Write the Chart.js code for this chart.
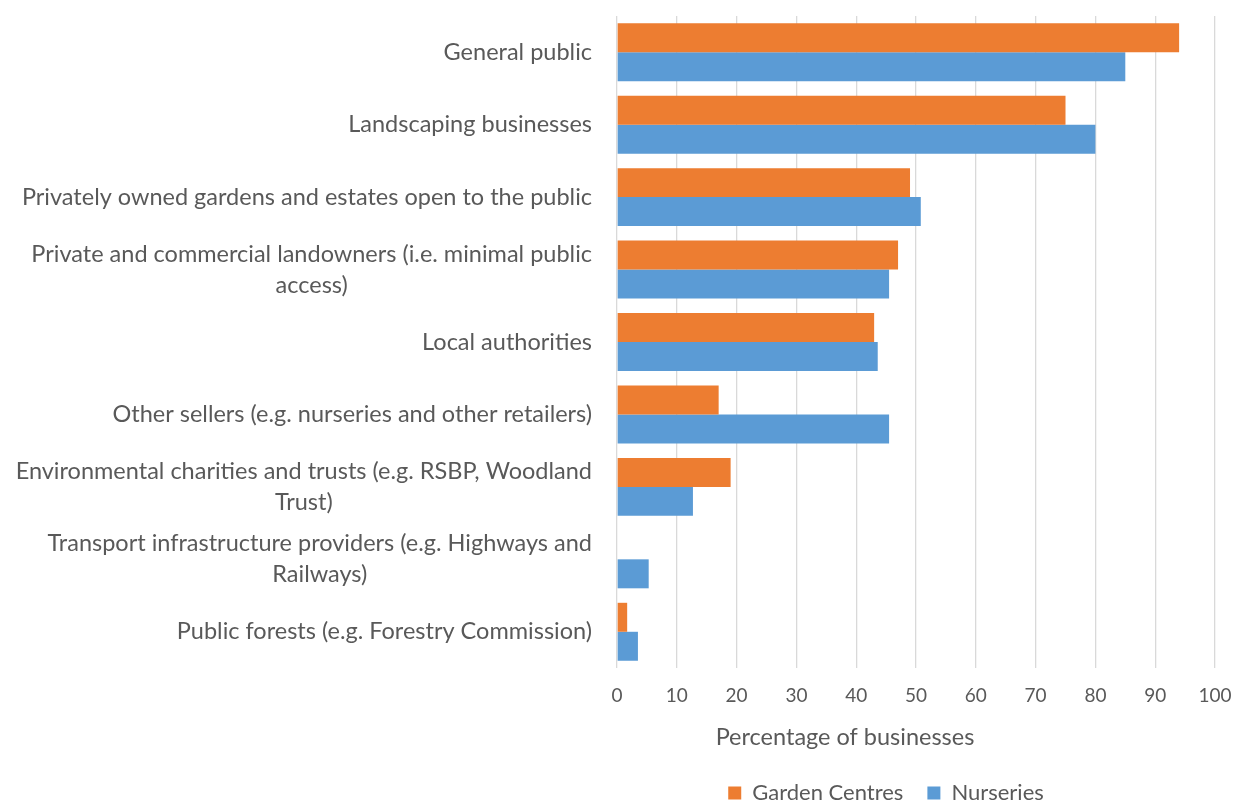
<!DOCTYPE html>
<html>
<head>
<meta charset="utf-8">
<script src="https://cdn.jsdelivr.net/npm/chart.js@4/dist/chart.umd.min.js"></script>
<style>
  html, body { margin: 0; padding: 0; background: #ffffff; }
  #wrap { width: 1240px; height: 804px; }
</style>
</head>
<body>
<div id="wrap"><canvas id="chart" width="1240" height="804"></canvas></div>
<script>
// Customer groups (multi-line entries wrap onto a second line)
const categories = [
  'General public',
  'Landscaping businesses',
  'Privately owned gardens and estates open to the public',
  ['Private and commercial landowners (i.e. minimal public', 'access)'],
  'Local authorities',
  'Other sellers (e.g. nurseries and other retailers)',
  ['Environmental charities and trusts (e.g. RSBP, Woodland', 'Trust)'],
  ['Transport infrastructure providers (e.g. Highways and', 'Railways)'],
  'Public forests (e.g. Forestry Commission)'
];

// Share of businesses selling to each group (%)
const gardenCentres = [94, 75, 49, 47, 43, 17, 19, 0, 1.7];
const nurseries     = [85, 80, 50.8, 45.5, 43.6, 45.5, 12.7, 5.3, 3.5];

const seriesNames = ['Garden Centres', 'Nurseries'];
const xTickValues = [0, 10, 20, 30, 40, 50, 60, 70, 80, 90, 100];
const xAxisTitle = 'Percentage of businesses';

const TEXT = '#595959';
const FONT = 'Lato, "Open Sans", sans-serif';

// Right-aligned category labels; continuation lines centred under the first
const categoryLabels = {
  id: 'categoryLabels',
  afterDraw(chart) {
    const s = chart.scales.y;
    const ctx = chart.ctx;
    ctx.save();
    ctx.font = '23.5px ' + FONT;
    ctx.fillStyle = TEXT;
    ctx.textAlign = 'center';
    ctx.textBaseline = 'middle';
    const right = chart.chartArea.left - 25;
    const lineH = 31;
    chart.data.labels.forEach((lab, i) => {
      const lines = Array.isArray(lab) ? lab : [lab];
      const w = Math.max(...lines.map(l => ctx.measureText(l).width));
      const cy = s.getPixelForValue(i);
      lines.forEach((l, j) => {
        ctx.fillText(l, right - w / 2, cy + (j - (lines.length - 1) / 2) * lineH);
      });
    });
    ctx.restore();
  }
};

// Value-axis caption
const axisCaption = {
  id: 'axisCaption',
  afterDraw(chart) {
    const ctx = chart.ctx;
    ctx.save();
    ctx.font = '23.5px ' + FONT;
    ctx.fillStyle = TEXT;
    ctx.textAlign = 'center';
    ctx.textBaseline = 'middle';
    ctx.fillText(xAxisTitle, 845, 737);
    ctx.restore();
  }
};

new Chart(document.getElementById('chart'), {
  type: 'bar',
  data: {
    labels: categories,
    datasets: [
      { label: seriesNames[0], data: gardenCentres, backgroundColor: '#ED7D31' },
      { label: seriesNames[1], data: nurseries, backgroundColor: '#5B9BD5' }
    ]
  },
  options: {
    indexAxis: 'y',
    responsive: false,
    animation: false,
    devicePixelRatio: 1,
    layout: { padding: { top: 16, right: 25, left: 557, bottom: -10 } },
    datasets: { bar: { categoryPercentage: 0.8, barPercentage: 1.0 } },
    scales: {
      x: {
        min: 0,
        max: 100,
        afterBuildTicks(scale) { scale.ticks = xTickValues.map(v => ({ value: v })); },
        afterFit(scale) { scale.height = 90; },
        grid: { color: '#d9d9d9', lineWidth: 1.3, drawTicks: true, tickLength: 16, tickColor: 'rgba(0,0,0,0)' },
        border: { display: false },
        ticks: { color: TEXT, font: { family: FONT, size: 19 }, padding: 0 }
      },
      y: {
        afterFit(scale) { scale.width = 60; },
        grid: { display: false },
        border: { display: false },
        ticks: { display: false }
      }
    },
    plugins: {
      legend: {
        position: 'bottom',
        labels: {
          color: TEXT,
          font: { family: FONT, size: 22 },
          boxWidth: 13,
          boxHeight: 13,
          padding: 24
        }
      },
      tooltip: { enabled: false }
    }
  },
  plugins: [categoryLabels, axisCaption]
});
</script>
</body>
</html>
